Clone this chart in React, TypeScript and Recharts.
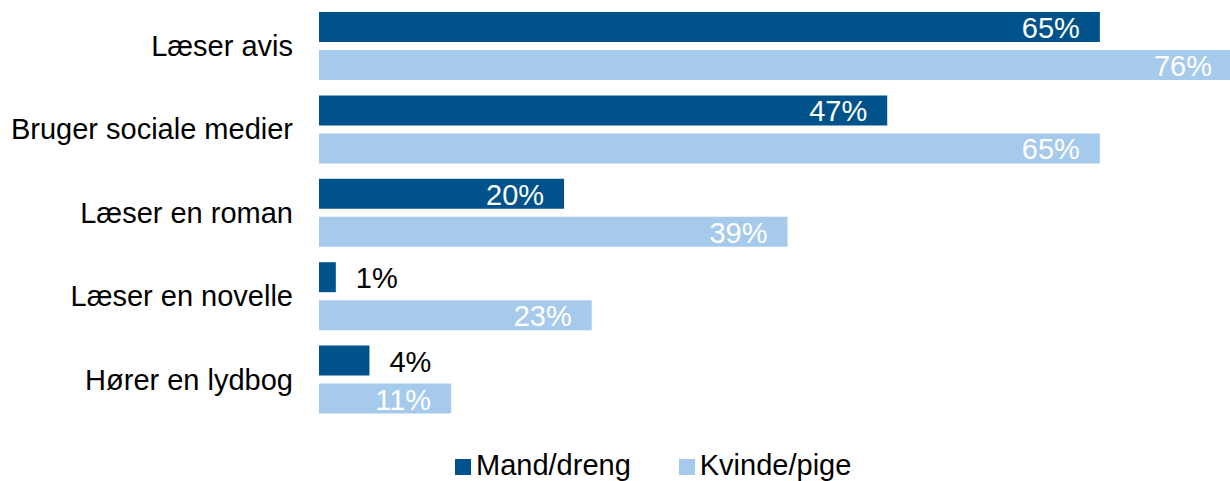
import React from "react";
import { BarChart, Bar, XAxis, YAxis, Legend, LabelList } from "recharts";

const categories = [
  "Læser avis",
  "Bruger sociale medier",
  "Læser en roman",
  "Læser en novelle",
  "Hører en lydbog",
];
const mandDreng = [65, 47.3, 20.4, 1.4, 4.2];
const kvindePige = [76, 65, 39, 22.7, 11];

const DARK = "#00538A";
const LIGHT = "#A6CAEC";
const FONT = "'Liberation Sans', Arial, sans-serif";

const chartData = categories.map((name, i) => ({
  name,
  mand: mandDreng[i],
  kvinde: kvindePige[i],
}));

// inside end for big bars, outside end for small ones
function ValueLabel(props: any) {
  const { x, y, width, height, value } = props;
  const text = `${Math.round(value)}%`;
  const inside = value >= 8;
  return (
    <text
      x={inside ? x + width - 20 : x + width + 20}
      y={y + height / 2 + 1}
      textAnchor={inside ? "end" : "start"}
      dominantBaseline="central"
      fill={inside ? "#fff" : "#000"}
      fontSize={29}
      fontFamily={FONT}
    >
      {text}
    </text>
  );
}

function LegendContent() {
  const items = [
    { label: "Mand/dreng", color: DARK },
    { label: "Kvinde/pige", color: LIGHT },
  ];
  return (
    <div style={{ display: "flex", marginLeft: 455, gap: 48, fontFamily: FONT, fontSize: 29, lineHeight: "34px" }}>
      {items.map((it) => (
        <div key={it.label} style={{ display: "flex", alignItems: "center" }}>
          <span style={{ width: 16, height: 16, background: it.color, marginRight: 5, marginTop: 4 }} />
          <span>{it.label}</span>
        </div>
      ))}
    </div>
  );
}

export default function App() {
  return (
    <div style={{ position: "absolute", left: 0, top: 0, width: 1230, height: 481, overflow: "hidden", background: "#fff" }}>
      <BarChart
        width={1232}
        height={481}
        data={chartData}
        layout="vertical"
        margin={{ top: 4, right: 0, bottom: 26, left: 0 }}
        barGap={8}
        barSize={30}
      >
        <XAxis type="number" domain={[0, 76]} hide />
        <YAxis
          type="category"
          dataKey="name"
          width={319}
          axisLine={false}
          tickLine={false}
          tickSize={0}
          tickMargin={26}
          tick={{ fill: "#000", fontSize: 29, fontFamily: FONT }}
        />
        <Legend
          content={<LegendContent />}
          wrapperStyle={{ top: 448, left: 0, width: 1230 }}
        />
        <Bar dataKey="mand" name="Mand/dreng" fill={DARK} isAnimationActive={false}>
          <LabelList dataKey="mand" content={<ValueLabel />} />
        </Bar>
        <Bar dataKey="kvinde" name="Kvinde/pige" fill={LIGHT} isAnimationActive={false}>
          <LabelList dataKey="kvinde" content={<ValueLabel />} />
        </Bar>
      </BarChart>
    </div>
  );
}
